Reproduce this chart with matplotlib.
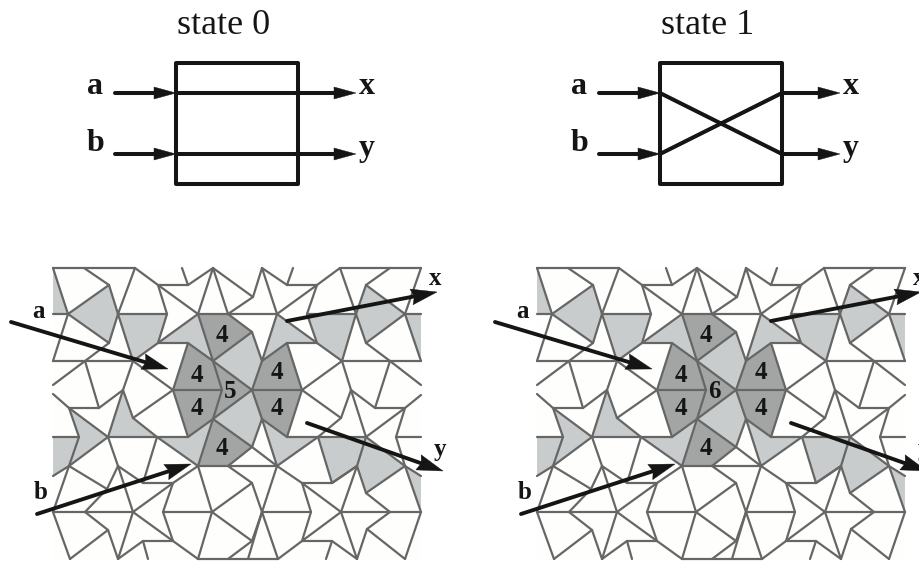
import matplotlib
matplotlib.use("Agg")
import matplotlib.pyplot as plt
from matplotlib.collections import LineCollection
from matplotlib.patches import Polygon, Rectangle

# ---- tiling vertices (reference picture coordinates) ----
V = dict(
    A1=(53,268),A2=(84,268),A3=(135,268),A4=(182,268),A5=(213,268),A6=(262,268),A7=(293,268),A8=(340,268),A9=(390,268),A10=(421,268),
    B1=(109,285),B2=(158,285),B3=(188,285),B4=(287,285),B5=(317,285),B6=(366,285),C1=(253,297),
    D1=(53,314),D2=(68,314),D3=(118,314),D4=(167,314),D5=(198,314),D6=(228,314),D7=(277,314),D8=(307,314),D9=(356,314),D10=(405,314),D11=(421,314),
    E1=(252,332),
    F1=(109,343),F2=(158,343),F3=(188,343),F4=(287,343),F5=(317,343),F6=(366,343),
    G1=(53,361),G2=(85,361),G3=(133,361),G4=(213,361),G5=(262,361),G6=(342,361),G7=(390,361),G8=(421,361),
    H1=(53,385),H2=(421,385),
    I1=(123,390),I2=(173,390),I3=(222,390),I4=(252,390),I5=(302,390),I6=(351,390),J1=(421,395),J2=(53,394),
    K1=(69,408),K2=(99,408),K3=(375,408),K4=(405,408),
    L1=(133,418),L2=(213,419),L3=(262,419),L4=(341,418),
    M1=(53,437),M2=(79,437),M3=(108,437),M4=(157,437),M5=(188,437),M6=(287,437),M7=(318,437),M8=(366,437),M9=(396,437),M10=(421,437),
    N1=(252,447),
    O1=(69,466),O2=(118,466),O3=(198,466),O4=(228,466),O5=(277,466),O6=(357,466),O7=(405,466),
    P1=(53,476),P2=(421,476),
    Q1=(107,489),Q2=(143,483),Q3=(173,483),Q4=(252,483),Q5=(302,483),Q6=(332,483),Q7=(366,493),
    R1=(53,512),R2=(85,512),R3=(133,512),R4=(163,512),R5=(212,512),R6=(262,512),R7=(311,512),R8=(341,512),R9=(390,512),R10=(421,512),
    S1=(108,530),S2=(367,529),
    T1=(143,541),T2=(173,541),T3=(252,541),T4=(302,541),T5=(332,541),
    U1=(70,559),U2=(118,559),U3=(148,559),U4=(198,559),U5=(228,559),U6=(248,559),U7=(278,559),U8=(326,559),U9=(357,559),U10=(405,559),
)
EDGES = """A1-A2 A2-A3 A8-A9 A9-A10 A1-D2 A2-B1 B1-D3 B1-D2 D2-F1 F1-D3 F1-G2 D2-G1 D3-A3 D3-G3 A3-B2 B2-D4 D4-F2 F2-G3
B2-D5 D5-F2 B2-B3 B3-A5 A4-B3 A5-D5 D5-G4 A5-D6 A5-C1 C1-D6 C1-A6 A6-D7 A6-B4 B4-A7 B4-B5 D7-B5 B5-D8 D8-F5 D7-F5 D7-G5
D6-E1 E1-G5 E1-G4 G5-I4 G4-I4 G4-I3 F3-G4 F3-I2 I2-M5 I3-L2 L2-I4 L2-M5 L2-O3 L2-N1 I4-L3 L3-N1 N1-O4 N1-O5 L3-O5 L3-M6
M6-I5 I5-F4 F4-G5 F4-F5 F2-F3 B5-A8 A8-D9 D9-B6 B6-A9 B6-D10 D10-A10 D10-F6 F6-D9 F6-G7 D10-G8 D9-G6 G6-F5 G6-I5 I5-L4 G6-I6
I6-L4 L4-M7 I6-K3 K3-G7 G7-H2 K3-K4 K4-J1 K4-M8 K4-M9 I6-M8 M9-O7 M9-M10 O7-M8 M8-O6 O6-Q6 Q6-M7 M7-O5 M6-M7 M7-M8
G1-G2 G2-G3 G6-G7 G7-G8 G2-H1 G2-K2 K2-I1 I1-G3 J2-K1 K1-K2 K1-M2 K1-M3 I1-M3 I1-L1 L1-M4 L1-I2 G3-I2 M1-M2 M3-M4 M4-M5
M2-O1 M3-O1 O1-R1 O1-P1 O1-Q1 Q1-O2 Q1-R2 M3-O2 O2-R3 O2-Q2 Q2-Q3 Q2-M4 M4-O3 Q3-O3 Q3-R3 Q3-R4 R4-R5 O3-R5
O3-O4 O4-O5 O4-Q4 R5-Q4 Q4-R6 O5-R6 O5-Q5 Q5-Q6 Q5-R7 Q5-R8 Q6-O6 O6-R8 O6-Q7 Q7-R9 Q7-O7 O7-R10 O7-P2
R1-R2 R2-R3 R6-R7 R8-R9 R9-R10 R1-U1 U1-S1 S1-R2 S1-U2 R3-U2 R3-T2 T1-T2 T1-U2 T1-U3 R4-T2 T2-U4 R5-U4 R5-T3 T3-U5 T3-R6 R6-U6 R6-U7
U4-U5 U5-U6 U6-U7 U7-T4 T4-T5 T5-U8 T5-U9 T4-R8 R7-T4 R8-U9 S2-U9 S2-U10 S2-R9 U10-R10
D1-D2 D3-D4 D5-D6 D6-D7 D8-D9 D10-D11 I2-I3 I4-I5""".split()
LIGHT = ["A1 D2 D1","D2 B1 D3 F1","D3 D4 F2 G3","F2 D5 G4 F3","G5 D7 F5 F4","D8 D9 G6 F5","D9 B6 D10 F6","D10 D11 G8",
         "M1 M2 O1 P1","K1 M3 O1 M2","I1 L1 M4 M3","M4 M5 L2 O3","L3 M6 M7 O5","M7 M8 O6 Q6","M8 O7 Q7 O6","O7 P2 R10",
         "G4 E1 G5 I4","L2 I4 L3 N1"]
DARK = ["D5 D6 E1 G4","F3 G4 I3 I2","I2 I3 L2 M5","L2 N1 O4 O3","I4 G5 F4 I5","I4 I5 M6 L3","G4 I3 L2 I4"]

# ---- labels ----
PANEL_OFFSET = 484
CENTER_VALUE = ["5", "6"]
STATE_TITLES = ["state 0", "state 1"]
DIGIT_POS = [(222,335),(197,375),(197,408),(222,448),(277,372),(277,408)]
TILE_LABELS = [("a",39,311),("b",41,492),("x",435,278),("y",440,449)]
TILE_ARROWS = [((11,322),(168,369)),((37,514),(191,464)),((287,321),(437,292)),((307,423),(443,471))]

GREY = "#666666"; LIGHTC = "#c9cccc"; DARKC = "#a3a5a5"; INK = "#151515"; TILE_BG = "#fefefc"
SERIF = "Liberation Serif"

fig = plt.figure(figsize=(9.2, 5.61), dpi=100)
ax = fig.add_axes([0, 0, 1, 1])
ax.set_xlim(0, 920); ax.set_ylim(561, 0); ax.axis("off")


def arrow(p, q, lw=2.8, head_len=26, head_w=16, notch=3, z=6):
    (x0, y0), (x1, y1) = p, q
    d = ((x1-x0)**2 + (y1-y0)**2)**0.5
    ux, uy = (x1-x0)/d, (y1-y0)/d
    nx, ny = -uy, ux
    bx, by = x1-ux*head_len, y1-uy*head_len
    ax.plot([x0, bx+ux*notch], [y0, by+uy*notch], color=INK, lw=lw, solid_capstyle="round", zorder=z)
    ax.add_patch(Polygon([(x1, y1), (bx+nx*head_w/2, by+ny*head_w/2), (bx+ux*notch, by+uy*notch),
                          (bx-nx*head_w/2, by-ny*head_w/2)], closed=True, fc=INK, ec=INK, lw=0.3, zorder=z))


def tiling(i):
    dx = PANEL_OFFSET*i
    sh = lambda n: (V[n][0]+dx, V[n][1])
    ax.add_patch(Rectangle((53+dx, 268), 368, 291, fc=TILE_BG, ec="none", zorder=1))
    for names, c in [(LIGHT, LIGHTC), (DARK, DARKC)]:
        for s in names:
            ax.add_patch(Polygon([sh(n) for n in s.split()], closed=True, fc=c, ec="none", zorder=2))
    segs = [[sh(a), sh(b)] for a, b in (e.split("-") for e in EDGES)]
    ax.add_collection(LineCollection(segs, colors=GREY, linewidths=1.6, capstyle="round", zorder=3))
    for x, y in DIGIT_POS:
        ax.text(x+dx, y, "4", family=SERIF, weight="bold", fontsize=18, color=INK, ha="center", va="center", zorder=5)
    ax.text(230+dx, 391, CENTER_VALUE[i], family=SERIF, weight="bold", fontsize=18,
            color=INK, ha="center", va="center", zorder=5)
    for t, x, y in TILE_LABELS:
        ax.text(x+dx, y, t, family=SERIF, weight="bold", fontsize=18, color=INK, ha="center", va="center", zorder=7)
    for p, q in TILE_ARROWS:
        arrow((p[0]+dx, p[1]), (q[0]+dx, q[1]))


def gate(i):
    dx = PANEL_OFFSET*i
    ax.text(224+dx, 25, STATE_TITLES[i], family=SERIF, fontsize=26, color=INK, ha="center", va="center")
    ax.add_patch(Rectangle((176+dx, 63), 122, 121, fc="none", ec=INK, lw=2.9, joinstyle="round", zorder=4))
    for y in (93, 154):
        arrow((115+dx, y), (176+dx, y), lw=2.9, head_len=22, head_w=12, notch=0)
        arrow((298+dx, y), (356+dx, y), lw=2.9, head_len=22, head_w=12, notch=0)
    if i == 0:
        for y in (93, 154):
            ax.plot([176+dx, 298+dx], [y, y], color=INK, lw=2.9, zorder=5)
    else:
        ax.plot([176+dx, 298+dx], [93, 154], color=INK, lw=2.9, zorder=5)
        ax.plot([176+dx, 298+dx], [154, 93], color=INK, lw=2.9, zorder=5)
    for t, x, y in [("a", 95, 86), ("b", 96, 143), ("x", 367, 86), ("y", 367, 148)]:
        ax.text(x+dx, y, t, family=SERIF, weight="bold", fontsize=23, color=INK, ha="center", va="center")


for i in (0, 1):
    tiling(i)
    gate(i)

fig.savefig("out.png", dpi=100, facecolor="white")
